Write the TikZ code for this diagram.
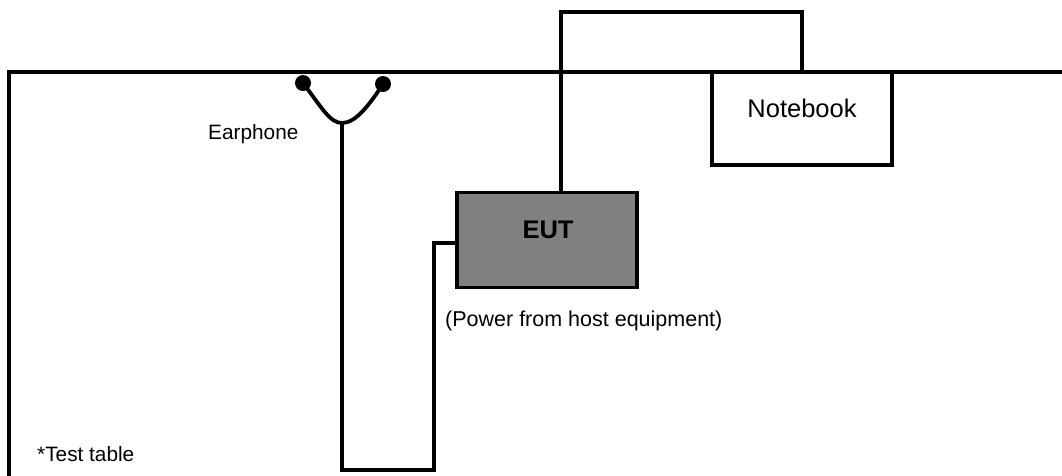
\documentclass[tikz,border=0pt]{standalone}
\usepackage{fontspec}
\setmainfont{Liberation Sans}
\begin{document}
\begin{tikzpicture}[x=1pt,y=-1pt,
  wire/.style={line width=3.8pt,line join=miter},
  boxw/.style={draw,line width=3.8pt,fill=white,minimum width=180pt,minimum height=93pt,inner sep=0pt},
  boxg/.style={draw,line width=3.8pt,fill=eutgray,minimum width=180pt,minimum height=95pt,inner sep=0pt},
  lbl/.style={inner sep=0pt,anchor=base west},
  dot/.style={circle,fill=black,minimum size=16pt,inner sep=0pt}]
\definecolor{eutgray}{RGB}{128,128,128}
\useasboundingbox (0,0) rectangle (1062,475);
\begin{scope}
\clip (0,0) rectangle (1062,475);
% test table
\coordinate (tl) at (9,72);
\coordinate (tr) at (1070,72);
\coordinate (bl) at (9,480);
\draw[wire] (bl) -- (tl) -- (tr);
\end{scope}
% notebook
\node[boxw] (nb) at (802,118.5) {};
\node[inner sep=0pt,anchor=base,font=\fontsize{25.5}{28}\selectfont] (nbt) at (802,117) {Notebook};
% EUT
\node[boxg] (eut) at (547,240) {};
\node[inner sep=0pt,anchor=base,font=\bfseries\fontsize{25.5}{28}\selectfont] (eutt) at (548,238) {EUT};
\node[lbl,font=\fontsize{21.5}{24}\selectfont] (pw) at (445,326) {(Power from host equipment)};
% cable notebook - EUT
\coordinate (c1) at (802,12);
\coordinate (c2) at (561,12);
\draw[wire] (nb.north -| c1) -- (c1) -- (c2) -- (c2 |- eut.north);
% earphone
\node[dot] (d1) at (303,83) {};
\node[dot] (d2) at (383,84) {};
\coordinate (ev) at (342,123);
\draw[wire] (d1.center) .. controls (322,108) and (330,123) .. (ev)
  .. controls (356,123) and (370,104) .. (d2.center);
\coordinate (b1) at (342,470);
\coordinate (b2) at (434,470);
\coordinate (b3) at (434,243);
\draw[wire] (ev) -- (b1) -- (b2) -- (b3) -- (b3 -| eut.west);
\node[lbl,font=\fontsize{20.8}{23}\selectfont] (ep) at (208,139) {Earphone};
\node[lbl,font=\fontsize{20.8}{23}\selectfont] (tt) at (37,461) {*Test table};
\end{tikzpicture}
\end{document}
